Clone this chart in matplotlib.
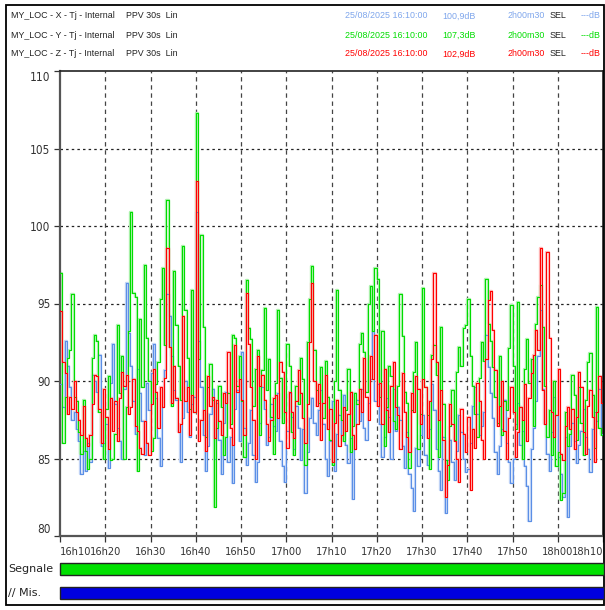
import numpy as np
import matplotlib.pyplot as plt
from matplotlib.patches import Rectangle

plt.rcParams['font.family'] = ['DejaVu Sans']

# 30 s steps starting at 16h10, minutes from start
step_min = 0.5

x_blue = [
    89.8, 88.3, 92.6, 91.0, 89.6, 87.5, 88.0, 86.9, 86.1, 84.0, 85.5, 84.2, 86.0, 84.8, 90.4, 90.0, 89.3, 91.7, 85.8, 86.0,
    87.2, 84.4, 89.9, 92.4, 88.5, 87.0, 86.1, 85.0, 89.5, 96.3, 93.1, 91.0, 88.7, 86.6, 90.8, 89.2, 87.4, 85.2, 89.9, 88.1,
    90.5, 92.4, 88.9, 86.3, 84.5, 88.3, 90.7, 95.6, 94.2, 91.6, 89.4, 88.8, 86.7, 84.8, 87.6, 90.0, 88.0, 86.4, 88.5, 89.0,
    100.9, 92.6, 89.6, 86.5, 84.2, 85.8, 87.9, 89.5, 85.0, 88.6, 86.2, 84.0, 87.3, 89.3, 84.8, 86.4, 83.4, 88.2, 89.4, 86.1,
    91.9, 87.0, 84.6, 86.0, 88.1, 85.2, 83.5, 84.8, 87.3, 89.6, 88.2, 85.9, 86.4, 88.5, 87.1, 86.8, 89.2, 86.1, 84.5, 83.5,
    86.8, 89.2, 87.7, 85.6, 88.4, 87.0, 84.9, 86.9, 82.8, 85.4, 87.6, 88.9, 87.3, 86.5, 88.1, 89.4, 87.2, 85.0, 83.9, 86.1,
    88.7, 84.2, 86.6, 87.8, 86.5, 89.1, 85.9, 84.7, 86.3, 82.4, 85.6, 88.8, 87.4, 89.5, 87.0, 86.2, 88.6, 90.1, 93.2, 88.7,
    89.8, 87.2, 85.1, 86.4, 88.9, 87.7, 85.0, 89.5, 86.8, 88.3, 87.5, 85.8, 84.4, 86.7, 84.0, 83.1, 81.6, 85.7, 84.5, 86.5,
    87.8, 85.2, 84.6, 86.9, 89.8, 88.1, 85.6, 84.2, 83.0, 86.4, 81.5, 84.9, 86.2, 84.8, 83.6, 85.5, 87.8, 86.7, 85.0, 84.1,
    84.3, 86.0, 88.4, 89.6, 87.9, 86.5, 87.1, 88.0, 93.0, 90.9, 89.2, 87.6, 85.4, 84.0, 85.8, 86.9, 88.8, 86.0, 84.8, 83.4,
    85.0, 87.2, 88.6, 85.9, 86.8, 84.5, 83.2, 81.0, 85.6, 87.0, 88.7, 91.6, 94.6, 89.5, 87.2, 85.3, 84.2, 86.7, 89.0, 87.8,
    85.1, 84.0, 82.5, 86.4, 81.2, 85.8, 87.3, 86.1, 84.7, 85.9, 86.8, 88.2, 86.4, 85.6, 84.1, 86.9, 88.0, 87.4, 89.5, 86.6,
    86.6,
]

y_green = [
    97.0, 86.0, 89.0, 91.5, 92.0, 95.6, 89.0, 88.7, 86.7, 85.3, 88.8, 85.5, 84.3, 85.0, 91.5, 93.0, 92.6, 88.0, 86.0, 85.0,
    88.2, 90.3, 84.9, 85.0, 86.6, 93.6, 89.2, 91.6, 85.0, 88.3, 93.2, 100.9, 95.7, 95.4, 84.2, 94.0, 89.6, 97.5, 92.8, 90.0,
    85.5, 86.3, 89.8, 91.2, 95.3, 97.3, 92.3, 101.7, 92.2, 88.4, 97.1, 93.6, 91.0, 88.8, 98.7, 94.6, 91.5, 88.2, 95.9, 88.0,
    107.3, 91.4, 99.4, 93.5, 86.4, 89.6, 91.1, 88.8, 81.9, 87.0, 89.7, 88.3, 85.2, 86.4, 89.2, 87.2, 93.0, 92.8, 89.7, 91.6,
    88.7, 85.1, 96.5, 93.4, 92.7, 88.4, 90.8, 92.0, 86.5, 90.7, 94.7, 89.4, 91.4, 87.7, 85.3, 89.9, 94.6, 90.2, 87.3, 88.0,
    92.4, 91.0, 86.7, 85.2, 89.7, 88.5, 91.5, 90.1, 84.6, 92.5, 95.3, 97.4, 92.0, 89.4, 88.6, 90.9, 87.6, 91.3, 89.0, 86.2,
    84.6, 90.0, 95.9, 89.4, 87.5, 86.1, 88.1, 90.8, 85.4, 87.1, 89.2, 88.5, 92.4, 93.1, 91.9, 89.3, 95.0, 96.1, 93.2, 97.3,
    96.6, 89.0, 93.2, 85.8, 88.3, 91.0, 90.3, 87.4, 86.9, 89.7, 95.6, 92.9, 89.3, 88.6, 84.4, 88.1, 90.6, 92.5, 85.6, 87.9,
    96.0, 89.6, 87.8, 84.3, 91.7, 92.3, 90.4, 85.1, 93.5, 88.5, 84.9, 83.6, 87.1, 89.4, 86.2, 90.6, 92.2, 91.0, 93.4, 93.6,
    95.3, 91.6, 89.7, 87.9, 86.4, 90.2, 92.5, 91.3, 96.6, 93.7, 92.6, 90.9, 89.0, 87.3, 91.6, 86.5, 88.7, 88.1, 92.1, 94.9,
    91.0, 86.9, 95.1, 88.3, 85.0, 90.8, 92.7, 89.9, 91.4, 87.1, 93.7, 95.4, 96.2, 93.5, 89.7, 86.4, 88.1, 85.2, 90.0, 84.5,
    85.4, 82.3, 82.8, 88.0, 85.8, 86.6, 90.4, 89.1, 86.2, 89.6, 87.3, 85.2, 88.8, 91.2, 91.8, 89.1, 85.7, 94.8, 87.0, 86.5,
    86.5,
]

z_red = [
    94.5, 91.2, 90.5, 87.9, 89.0, 88.2, 90.0, 88.0, 87.5, 86.5, 88.4, 86.3, 85.8, 86.5, 88.5, 90.4, 90.3, 88.2, 86.0, 89.5,
    87.7, 85.6, 88.9, 86.8, 88.7, 86.1, 88.9, 90.6, 89.7, 90.4, 87.9, 88.3, 90.1, 87.1, 86.8, 85.7, 85.3, 87.4, 86.0, 85.2,
    88.5, 90.8, 89.3, 87.0, 89.6, 88.3, 90.2, 98.6, 92.2, 88.6, 91.0, 88.9, 86.7, 87.2, 94.2, 88.7, 89.6, 86.5, 89.1, 88.0,
    102.9, 86.1, 87.5, 88.1, 85.5, 90.3, 88.4, 89.0, 86.3, 88.8, 87.4, 86.5, 89.2, 88.6, 91.9, 87.0, 85.9, 92.3, 89.3, 90.1,
    88.8, 86.5, 95.7, 92.4, 89.6, 87.5, 85.0, 91.6, 89.7, 90.4, 88.8, 87.2, 86.1, 87.5, 88.9, 89.1, 87.6, 91.2, 90.6, 88.0,
    85.7, 89.3, 88.0, 86.3, 88.7, 90.7, 89.2, 87.6, 86.0, 88.5, 92.5, 96.3, 90.0, 88.4, 89.8, 86.2, 88.6, 90.4, 86.9, 88.2,
    84.8, 87.3, 88.8, 85.8, 86.5, 88.3, 86.8, 87.9, 89.3, 86.5, 85.6, 87.2, 89.5, 88.0, 91.5, 89.0, 87.5, 91.6, 90.1, 93.0,
    88.4, 89.9, 87.2, 90.8, 88.1, 86.7, 89.7, 91.2, 88.3, 87.8, 85.6, 90.5, 88.0, 86.4, 85.4, 89.2, 88.0, 90.3, 89.5, 87.2,
    90.1, 89.6, 86.3, 88.7, 91.4, 97.0, 91.2, 87.5, 89.4, 86.2, 82.5, 84.6, 88.5, 87.2, 86.1, 85.0, 83.5, 88.2, 86.6, 85.4,
    87.7, 83.0, 86.9, 85.7, 89.9, 88.7, 86.2, 85.0, 91.4, 95.2, 95.8, 93.3, 90.7, 87.1, 88.4, 90.0, 86.8, 85.0, 87.6, 89.6,
    88.0, 85.1, 86.7, 88.3, 87.5, 89.8, 86.1, 88.9, 90.5, 91.7, 93.3, 92.0, 98.6, 89.4, 87.2, 98.3, 92.8, 88.0, 86.4, 87.8,
    90.8, 85.3, 84.9, 87.1, 88.3, 86.9, 88.2, 85.6, 87.7, 90.6, 89.6, 86.7, 85.3, 88.4, 89.4, 87.7, 84.8, 88.0, 90.3, 88.6,
    88.6,
]

series_names = ["MY_LOC - X - Tj - Internal", "MY_LOC - Y - Tj - Internal", "MY_LOC - Z - Tj - Internal"]
series_max = ["100,9dB", "107,3dB", "102,9dB"]
start_text = "25/08/2025 16:10:00"
duration_text = "2h00m30"
tick_labels = ["16h10", "16h20", "16h30", "16h40", "16h50", "17h00", "17h10",
               "17h20", "17h30", "17h40", "17h50", "18h00", "18h10"]
y_ticks = [80, 85, 90, 95, 100, 105, 110]

colors = ['#5b8fe6', '#00dd00', '#ff0000']
pale = ['#c4d6f6', '#b0f2b0', '#ffbcbc']
head_colors = ['#7fa6ec', '#00dd00', '#ff0000']

W, H = 605, 610


def fx(px):
    return px / W


def fy(py):
    return 1 - py / H


fig = plt.figure(figsize=(W / 100, H / 100), dpi=100)

# outer frame
fig.add_artist(Rectangle((fx(6), fy(605)), fx(598), 600 / H, transform=fig.transFigure,
                         fill=False, ec='black', lw=1.3))

# header rows
rows_y = [16, 35, 54]
for i in range(3):
    y = fy(rows_y[i])
    kw = dict(fontsize=6.4, va='center', family=['Liberation Sans', 'DejaVu Sans'],
              transform=fig.transFigure)
    fig.text(fx(11), y, series_names[i], color='#222222', **kw)
    fig.text(fx(126), y, "PPV 30s  Lin", color='#222222', **kw)
    fig.text(fx(345), y, start_text, color=head_colors[i], **kw)
    fig.text(fx(442), y, series_max[i], color=head_colors[i], **kw)
    fig.text(fx(508), y, duration_text, color=head_colors[i], **kw)
    fig.text(fx(550), y, "SEL", color='#222222', **kw)
    fig.text(fx(581), y, "---dB", color=head_colors[i], **kw)

# main axes
ax = fig.add_axes([fx(60), fy(536), (603 - 60) / W, (536 - 71) / H])
t = np.arange(len(x_blue)) * step_min
for vals, c, p in zip([x_blue, y_green, z_red], colors, pale):
    ax.step(t, vals, where='post', color=p, lw=1.7, zorder=2)
    ax.step(t, vals, where='post', color=c, lw=0.8, zorder=3)

ax.set_xlim(0, 120)
ax.set_ylim(80, 110)

ax.set_xticks(np.arange(0, 121, 10))
ax.set_xticklabels(tick_labels)
ax.set_yticks(y_ticks)
ax.set_yticklabels([str(v) for v in y_ticks])
xl = ax.get_xticklabels()
xl[0].set_ha('left')
xl[-1].set_ha('right')
yl = ax.get_yticklabels()
yl[0].set_va('bottom')
yl[-1].set_va('top')
ax.tick_params(axis='both', labelsize=8.5, labelcolor='#333333', length=4, width=0.9, color='#333333')
ax.tick_params(axis='x', pad=4, labelsize=7.9)
ax.tick_params(axis='y', pad=3)
for lab in xl + yl:
    lab.set_fontstretch('condensed')

for v in y_ticks[1:-1]:
    ax.axhline(v, color='#222222', lw=0.9, ls=(0, (2, 2.5)), zorder=1)
for m in range(10, 120, 10):
    ax.axvline(m, color='#444444', lw=0.9, ls=(0, (3.5, 3)), zorder=1)

for s in ['left', 'bottom']:
    ax.spines[s].set_linewidth(1.6)
    ax.spines[s].set_color('#555555')
for s in ['top', 'right']:
    ax.spines[s].set_linewidth(1.2)
    ax.spines[s].set_color('#222222')

# status bars
fig.text(fx(8), fy(569), "Segnale", fontsize=8, va='center', color='#222222')
fig.add_artist(Rectangle((fx(60), fy(575)), (604 - 60) / W, 12 / H, transform=fig.transFigure,
                         fc='#00e000', ec='#222222', lw=1.0))
fig.text(fx(8), fy(593), "// Mis.", fontsize=8, va='center', color='#222222')
fig.add_artist(Rectangle((fx(60), fy(599)), (604 - 60) / W, 12 / H, transform=fig.transFigure,
                         fc='#0000e0', ec='#222222', lw=1.0))

fig.savefig('out.png', dpi=100)
